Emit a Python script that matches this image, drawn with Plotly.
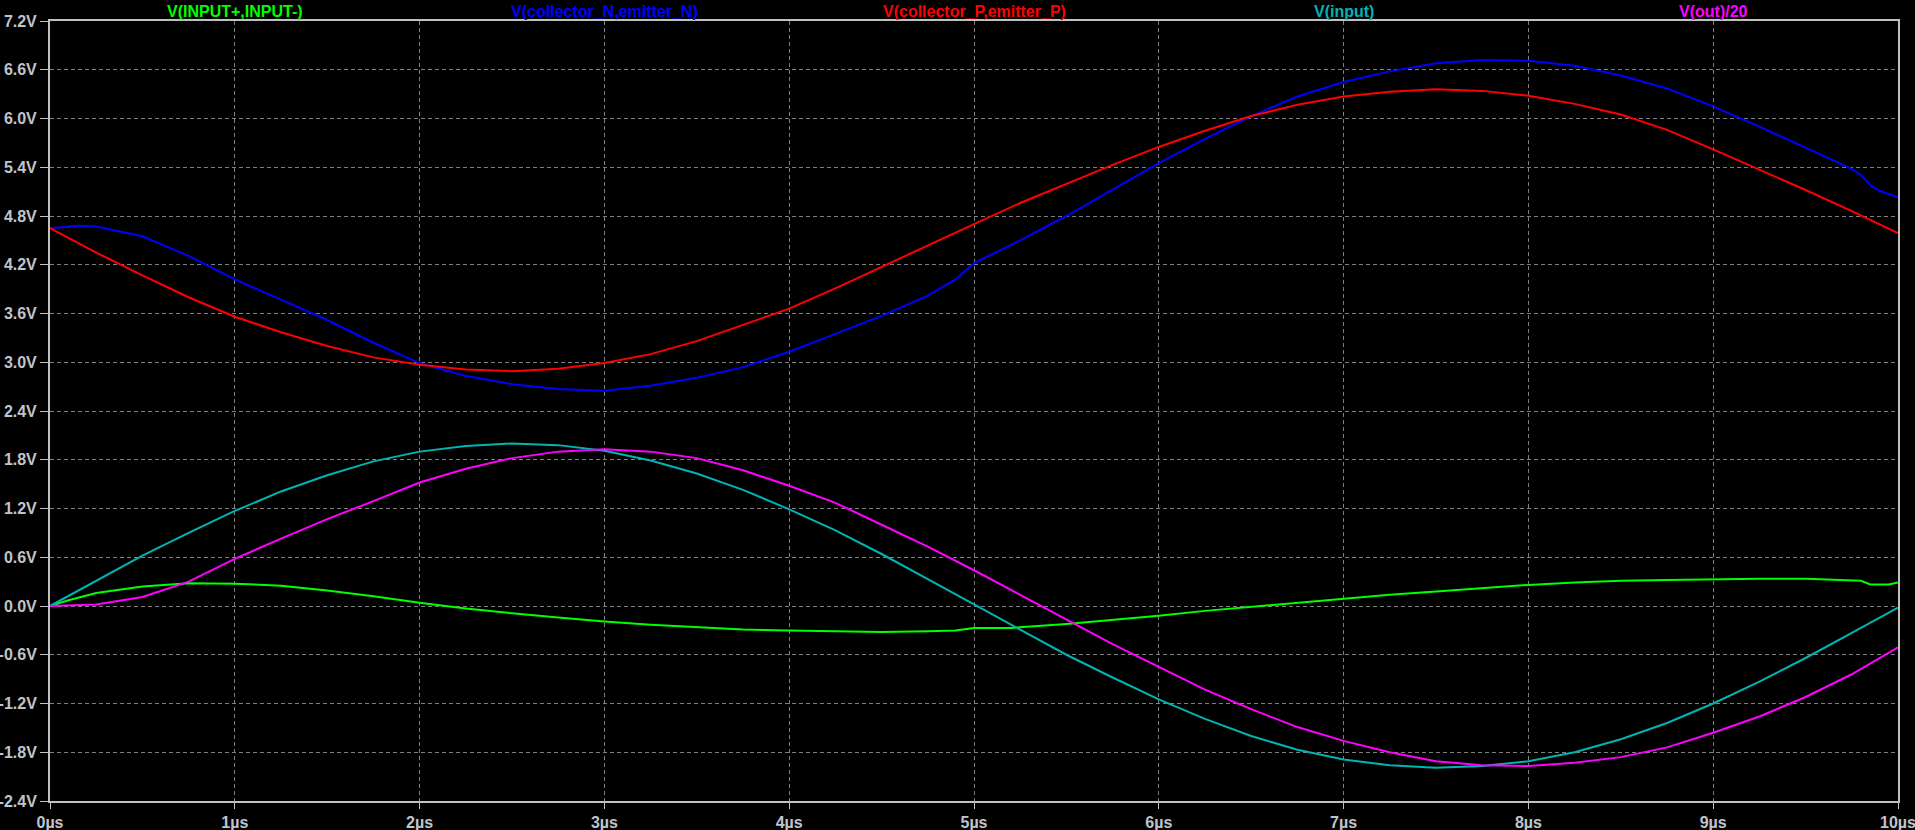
import plotly.graph_objects as go

# ---------------- data ----------------
legend_names = ["V(INPUT+,INPUT-)", "V(collector_N,emitter_N)", "V(collector_P,emitter_P)",
                "V(input)", "V(out)/20"]
legend_colors = ["#00ff00", "#0000ff", "#ff0000", "#00b4b4", "#ff00ff"]

t_green = [0, 0.1, 0.25, 0.5, 0.75, 1.0, 1.25, 1.5, 1.75, 2.0, 2.25, 2.5, 2.75, 3.0, 3.25, 3.5,
           3.75, 4.0, 4.25, 4.5, 4.75, 4.9, 5.0, 5.2, 5.5, 5.75, 6.0, 6.25, 6.5, 6.75, 7.0, 7.25,
           7.5, 7.75, 8.0, 8.25, 8.5, 8.75, 9.0, 9.25, 9.5, 9.75, 9.8, 9.85, 9.95, 10.0]
v_green = [0, 0.07, 0.16, 0.24, 0.28, 0.275, 0.25, 0.19, 0.12, 0.04, -0.03, -0.09, -0.14, -0.19,
           -0.23, -0.26, -0.29, -0.30, -0.31, -0.32, -0.31, -0.30, -0.27, -0.27, -0.22, -0.17,
           -0.12, -0.06, -0.01, 0.04, 0.09, 0.14, 0.18, 0.22, 0.26, 0.29, 0.31, 0.32, 0.33, 0.335,
           0.335, 0.32, 0.31, 0.265, 0.265, 0.29]

t_blue = [0, 0.15, 0.25, 0.5, 0.75, 1.0, 1.25, 1.5, 1.75, 2.0, 2.25, 2.5, 2.75, 3.0, 3.25, 3.5,
          3.75, 4.0, 4.25, 4.5, 4.75, 4.9, 5.0, 5.25, 5.5, 5.75, 6.0, 6.25, 6.5, 6.75, 7.0, 7.25,
          7.5, 7.75, 8.0, 8.25, 8.5, 8.75, 9.0, 9.25, 9.5, 9.75, 9.8, 9.85, 9.9, 10.0]
v_blue = [4.65, 4.68, 4.67, 4.55, 4.31, 4.02, 3.77, 3.52, 3.24, 2.99, 2.83, 2.73, 2.67, 2.65,
          2.71, 2.81, 2.94, 3.13, 3.35, 3.57, 3.82, 4.02, 4.22, 4.50, 4.80, 5.13, 5.45, 5.75,
          6.03, 6.27, 6.45, 6.58, 6.68, 6.72, 6.71, 6.65, 6.53, 6.37, 6.15, 5.90, 5.64, 5.38,
          5.30, 5.18, 5.11, 5.03]

t_red = [0, 0.25, 0.5, 0.75, 1.0, 1.25, 1.5, 1.75, 2.0, 2.25, 2.5, 2.75, 3.0, 3.25, 3.5, 3.75,
         4.0, 4.25, 4.5, 4.75, 5.0, 5.25, 5.5, 5.75, 6.0, 6.25, 6.5, 6.75, 7.0, 7.25, 7.5, 7.75,
         8.0, 8.25, 8.5, 8.75, 9.0, 9.25, 9.5, 9.75, 10.0]
v_red = [4.65, 4.35, 4.07, 3.80, 3.56, 3.37, 3.20, 3.06, 2.97, 2.91, 2.89, 2.92, 2.99, 3.10,
         3.26, 3.46, 3.66, 3.91, 4.17, 4.44, 4.70, 4.96, 5.20, 5.43, 5.65, 5.85, 6.03, 6.17,
         6.27, 6.33, 6.36, 6.34, 6.28, 6.18, 6.05, 5.86, 5.62, 5.37, 5.12, 4.86, 4.59]

t_cyan = [0, 0.25, 0.5, 0.75, 1.0, 1.25, 1.5, 1.75, 2.0, 2.25, 2.5, 2.75, 3.0, 3.25, 3.5, 3.75,
          4.0, 4.25, 4.5, 4.75, 5.0, 5.25, 5.5, 5.75, 6.0, 6.25, 6.5, 6.75, 7.0, 7.25, 7.5, 7.75,
          8.0, 8.25, 8.5, 8.75, 9.0, 9.25, 9.5, 9.75, 10.0]
v_cyan = [0, 0.31, 0.62, 0.90, 1.17, 1.41, 1.61, 1.78, 1.90, 1.97, 2.0, 1.98, 1.91, 1.79, 1.63,
          1.43, 1.19, 0.93, 0.64, 0.33, 0.02, -0.29, -0.60, -0.88, -1.15, -1.39, -1.60, -1.77,
          -1.89, -1.96, -1.99, -1.97, -1.91, -1.80, -1.64, -1.44, -1.20, -0.93, -0.64, -0.33,
          -0.02]

t_mag = [0, 0.25, 0.5, 0.75, 1.0, 1.25, 1.5, 1.75, 2.0, 2.25, 2.5, 2.75, 3.0, 3.25, 3.5, 3.75,
         4.0, 4.25, 4.5, 4.75, 5.0, 5.25, 5.5, 5.75, 6.0, 6.25, 6.5, 6.75, 7.0, 7.25, 7.5, 7.75,
         8.0, 8.25, 8.5, 8.75, 9.0, 9.25, 9.5, 9.75, 10.0]
v_mag = [0, 0.02, 0.11, 0.30, 0.58, 0.83, 1.07, 1.29, 1.52, 1.69, 1.82, 1.90, 1.93, 1.90, 1.82,
         1.67, 1.48, 1.27, 1.00, 0.73, 0.44, 0.14, -0.17, -0.47, -0.75, -1.03, -1.27, -1.49,
         -1.66, -1.80, -1.91, -1.96, -1.97, -1.93, -1.86, -1.74, -1.56, -1.36, -1.12, -0.84,
         -0.51]

x_tickvals = [0, 1, 2, 3, 4, 5, 6, 7, 8, 9, 10]
x_ticktext = ["0µs", "1µs", "2µs", "3µs", "4µs", "5µs", "6µs", "7µs", "8µs", "9µs", "10µs"]
y_tickvals = [-2.4, -1.8, -1.2, -0.6, 0.0, 0.6, 1.2, 1.8, 2.4, 3.0, 3.6, 4.2, 4.8, 5.4, 6.0, 6.6, 7.2]
y_ticktext = ["-2.4V", "-1.8V", "-1.2V", "-0.6V", "0.0V", "0.6V", "1.2V", "1.8V", "2.4V", "3.0V",
              "3.6V", "4.2V", "4.8V", "5.4V", "6.0V", "6.6V", "7.2V"]

series = [(t_green, v_green), (t_blue, v_blue), (t_red, v_red), (t_cyan, v_cyan), (t_mag, v_mag)]

# ---------------- figure ----------------
fig = go.Figure()
for (tt, vv), name, col in zip(series, legend_names, legend_colors):
    fig.add_trace(go.Scatter(x=tt, y=vv, mode="lines", name=name,
                             line=dict(color=col, width=2), hoverinfo="skip"))

FONT = "Liberation Sans, Arial, sans-serif"
TICKCOL = "#c0c4cc"
AXCOL = "#c0c0c0"

leg_x = [0.1, 0.3, 0.5, 0.7, 0.9]
for xp, name, col in zip(leg_x, legend_names, legend_colors):
    fig.add_annotation(x=xp, y=1 + 9.5 / 780, xref="paper", yref="paper", text=name,
                       showarrow=False, xanchor="center", yanchor="middle",
                       font=dict(family=FONT, size=16, color=col, weight="bold"))

fig.update_layout(
    width=1915, height=830,
    margin=dict(l=50, r=17, t=21, b=29, pad=0),
    paper_bgcolor="black", plot_bgcolor="black",
    showlegend=False,
    xaxis=dict(range=[0, 10], tickvals=x_tickvals, ticktext=x_ticktext, automargin=False,
               showgrid=True, gridcolor="#808080", gridwidth=1, griddash="4px,3px",
               zeroline=False, showline=True, linecolor=AXCOL, linewidth=2, mirror=True,
               ticks="outside", ticklen=6, tickcolor=AXCOL, tickwidth=1,
               ticklabeloverflow="allow",
               tickfont=dict(family=FONT, size=16, color=TICKCOL, weight="bold")),
    yaxis=dict(range=[-2.4, 7.2], tickvals=y_tickvals, ticktext=y_ticktext, automargin=False,
               showgrid=True, gridcolor="#808080", gridwidth=1, griddash="4px,3px",
               zeroline=False, showline=True, linecolor=AXCOL, linewidth=2, mirror=True,
               ticks="outside", ticklen=8, tickcolor=AXCOL, tickwidth=1,
               ticklabelstandoff=0, ticklabeloverflow="allow",
               tickfont=dict(family=FONT, size=16, color=TICKCOL, weight="bold")),
)

fig.write_html("out.html", config={"displayModeBar": False},
               post_script="document.body.style.margin='0';document.body.style.overflow='hidden';")
